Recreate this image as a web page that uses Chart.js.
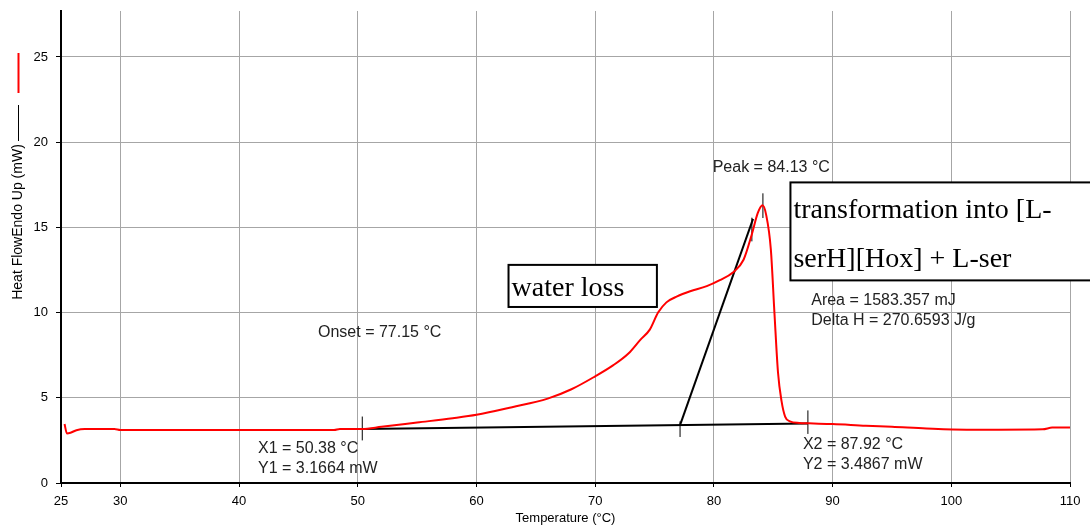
<!DOCTYPE html>
<html>
<head>
<meta charset="utf-8">
<script src="https://cdn.jsdelivr.net/npm/chart.js@4.4.1/dist/chart.umd.min.js"></script>
<style>
  html, body { margin: 0; padding: 0; background: #fff; }
  #wrap { position: relative; width: 1090px; height: 526px; }
</style>
</head>
<body>
<div id="wrap"><canvas id="grafico" width="1090" height="526"></canvas></div>
<script>
// curva DSC (vermelha)
const temperatura = [25.3, 25.5, 25.8, 26.3, 27, 29.5, 30, 48, 48.5, 50.4, 52, 55, 58, 60, 63, 66, 68, 70, 71.5, 72.8, 73.8, 74.6, 75.3, 76.0, 76.9, 78, 79.4, 80.5, 81.6, 82.5, 83.2, 83.7, 84.1, 84.4, 84.8, 85.1, 85.4, 85.7, 86.0, 86.4, 87.2, 88, 90, 92.8, 95, 97.9, 101.3, 104, 107.7, 108.5, 110];
const fluxo = [3.46, 2.91, 2.95, 3.1, 3.17, 3.17, 3.11, 3.11, 3.17, 3.17, 3.3, 3.55, 3.8, 4.0, 4.45, 4.95, 5.5, 6.26, 6.9, 7.6, 8.4, 9.0, 10.0, 10.6, 10.95, 11.25, 11.55, 11.9, 12.35, 13.1, 14.6, 15.85, 16.3, 15.75, 13.7, 10.0, 6.5, 4.8, 3.9, 3.62, 3.52, 3.5, 3.46, 3.36, 3.3, 3.2, 3.13, 3.13, 3.15, 3.25, 3.26];

// linha de base e tangente (preto)
const baseX = [50.38, 87.92];
const baseY = [3.1664, 3.4867];
const tangX = [77.15, 83.3];
const tangY = [3.395, 15.5];

// marcas verticais
const marcaX = [50.38, 77.15, 87.92, 84.13, 83.2];
const marcaY1 = [2.5, 2.7, 2.88, 15.55, 14.18];
const marcaY2 = [3.9, 3.62, 4.26, 17.0, 15.57];

const ticksX = [25, 30, 40, 50, 60, 70, 80, 90, 100, 110];
const ticksY = [0, 5, 10, 15, 20, 25];

// textos
const rotulos = [
    { x: 46.65, y: 8.83, linhas: ['Onset = 77.15 °C'] },
    { x: 41.6, y: 2.0, linhas: ['X1 = 50.38 °C', 'Y1 = 3.1664 mW'] },
    { x: 87.5, y: 2.25, linhas: ['X2 = 87.92 °C', 'Y2 = 3.4867 mW'] },
    { x: 79.9, y: 18.5, linhas: ['Peak = 84.13 °C'] },
    { x: 88.2, y: 10.7, linhas: ['Area = 1583.357 mJ', 'Delta H = 270.6593 J/g'] }
];
const caixas = [
    { x1: 62.7, y1: 12.8, x2: 75.2, y2: 10.33, linhas: ['water loss'] },
    { x1: 86.45, y1: 17.64, x2: 112, y2: 11.89, linhas: ['transformation into [L-', 'serH][Hox] + L-ser'] }
];

let datasets = [{
    data: temperatura.map((t, i) => ({ x: t, y: fluxo[i] })),
    borderColor: '#ff0000',
    borderWidth: 2,
    pointRadius: 0,
    cubicInterpolationMode: 'monotone'
}, {
    data: baseX.map((t, i) => ({ x: t, y: baseY[i] })),
    borderColor: '#000',
    borderWidth: 2,
    pointRadius: 0
}, {
    data: tangX.map((t, i) => ({ x: t, y: tangY[i] })),
    borderColor: '#000',
    borderWidth: 2,
    pointRadius: 0
}];
marcaX.forEach((t, i) => {
    datasets.push({
        data: [{ x: t, y: marcaY1[i] }, { x: t, y: marcaY2[i] }],
        borderColor: '#000',
        borderWidth: 1,
        pointRadius: 0
    });
});

const anotacoes = {
    id: 'anotacoes',
    afterDraw(chart) {
        const ctx = chart.ctx;
        const sx = chart.scales.x, sy = chart.scales.y;
        ctx.save();
        // rotulos pequenos
        ctx.fillStyle = '#222';
        ctx.font = '16px "Liberation Sans", Arial, sans-serif';
        ctx.textAlign = 'left';
        ctx.textBaseline = 'middle';
        rotulos.forEach(r => {
            const px = sx.getPixelForValue(r.x), py = sy.getPixelForValue(r.y);
            r.linhas.forEach((l, k) => ctx.fillText(l, px, py + k * 19.5));
        });
        // caixas
        caixas.forEach(c => {
            const x1 = sx.getPixelForValue(c.x1), x2 = sx.getPixelForValue(c.x2);
            const y1 = sy.getPixelForValue(c.y1), y2 = sy.getPixelForValue(c.y2);
            ctx.fillStyle = '#fff';
            ctx.fillRect(x1, y1, x2 - x1, y2 - y1);
            ctx.strokeStyle = '#000';
            ctx.lineWidth = 2;
            ctx.strokeRect(x1, y1, x2 - x1, y2 - y1);
            ctx.fillStyle = '#000';
            ctx.font = '28px "Liberation Serif", "Times New Roman", serif';
            ctx.textBaseline = 'alphabetic';
            const h = (y2 - y1) / c.linhas.length;
            c.linhas.forEach((l, k) => ctx.fillText(l, x1 + 3, y1 + h * k + h * 0.73));
        });
        // titulo do eixo y com legenda
        ctx.translate(18.5, 222);
        ctx.rotate(-Math.PI / 2);
        ctx.fillStyle = '#000';
        ctx.font = '14px "Liberation Sans", Arial, sans-serif';
        ctx.textAlign = 'center';
        ctx.textBaseline = 'middle';
        ctx.fillText('Heat FlowEndo Up (mW)', 0, 0);
        ctx.lineWidth = 1;
        ctx.strokeStyle = '#000';
        ctx.beginPath(); ctx.moveTo(81, 0); ctx.lineTo(117, 0); ctx.stroke();
        ctx.lineWidth = 2;
        ctx.strokeStyle = '#ff0000';
        ctx.beginPath(); ctx.moveTo(129, 0); ctx.lineTo(169, 0); ctx.stroke();
        ctx.restore();
    }
};

const config = {
    type: 'line',
    data: { datasets: datasets },
    options: {
        responsive: false,
        animation: false,
        layout: { padding: { top: 0, right: 20, left: 0, bottom: 0 } },
        plugins: { legend: { display: false }, tooltip: { enabled: false } },
        scales: {
            x: {
                type: 'linear',
                min: 25,
                max: 110,
                afterBuildTicks: s => { s.ticks = ticksX.map(v => ({ value: v })); },
                afterFit: s => { s.height = 43; },
                ticks: { color: '#000', font: { family: 'Liberation Sans', size: 13 }, padding: 7, maxRotation: 0 },
                grid: {
                    color: c => c.tick && c.tick.value === 25 ? 'rgba(0,0,0,0)' : '#a6a6a6',
                    tickColor: '#000',
                    tickLength: 4,
                    lineWidth: 1
                },
                border: { color: '#000', width: 2 },
                title: { display: true, text: 'Temperature (°C)', color: '#000', font: { family: 'Liberation Sans', size: 13 }, padding: { top: 0, bottom: 0 } }
            },
            y: {
                min: 0,
                max: 27.7,
                afterBuildTicks: s => { s.ticks = ticksY.map(v => ({ value: v })); },
                afterFit: s => { s.width = 61; },
                ticks: { color: '#000', font: { family: 'Liberation Sans', size: 13, lineHeight: 0.46 }, padding: 8 },
                grid: {
                    color: c => c.tick && c.tick.value === 0 ? 'rgba(0,0,0,0)' : '#a6a6a6',
                    tickColor: '#000',
                    tickLength: 5,
                    lineWidth: 1
                },
                border: { color: '#000', width: 2 }
            }
        }
    },
    plugins: [anotacoes]
};

const ctx = document.getElementById('grafico').getContext('2d');
const meuGrafico = new Chart(ctx, config);
</script>
</body>
</html>
